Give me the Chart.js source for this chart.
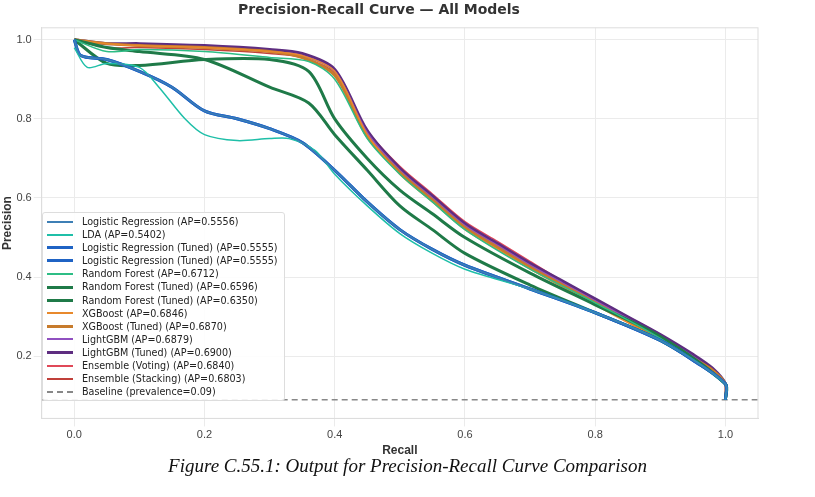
<!DOCTYPE html>
<html><head><meta charset="utf-8">
<script src="https://cdn.jsdelivr.net/npm/chart.js@4/dist/chart.umd.min.js"></script>
<style>
body{margin:0;background:#fff;font-family:"DejaVu Sans",sans-serif}
#wrap{position:relative;width:815px;height:460px}
#legend{position:absolute;left:42px;top:212px;background:rgba(255,255,255,0.9);border:1px solid #ddd;border-radius:3px;padding:2px 6px 2px 4px;font-size:9.6px;color:#222;line-height:13.1px}
#legend .it{display:flex;align-items:center}
#legend .sw{width:26px;margin-right:9px}
#cap{position:absolute;left:0;top:455px;width:815px;text-align:center;font:italic 19px "Liberation Serif",serif;color:#111}
</style></head><body>
<div id="wrap"><canvas id="c" width="815" height="458"></canvas>
<div id="legend"></div></div>
<div id="cap">Figure C.55.1: Output for Precision-Recall Curve Comparison</div>
<script>
const topX = [0,0.05,0.1,0.2,0.3,0.35,0.4,0.45,0.5,0.55,0.6,0.65,0.7,0.75,0.8,0.85,0.9,0.95,0.98,1.0,1.0];
const lrX = [0,0.01,0.05,0.1,0.15,0.2,0.25,0.3,0.35,0.4,0.45,0.5,0.55,0.6,0.7,0.8,0.9,0.95,1.0,1.0];
const ldaX = [0,0.02,0.05,0.1,0.13,0.17,0.2,0.25,0.3,0.33,0.37,0.4,0.45,0.5,0.55,0.6,0.7,0.8,0.9,1.0,1.0];
const rfX = [0,0.05,0.1,0.2,0.3,0.36,0.4,0.45,0.5,0.55,0.6,0.7,0.8,0.9,1.0,1.0];

const lrY = [1.0,0.96,0.95,0.92,0.88,0.82,0.8,0.775,0.74,0.67,0.59,0.52,0.47,0.43,0.37,0.31,0.24,0.19,0.13,0.09];
const ldaY = [0.98,0.93,0.94,0.93,0.88,0.8,0.76,0.745,0.75,0.75,0.72,0.66,0.58,0.51,0.46,0.42,0.37,0.31,0.24,0.13,0.09];
const rfY = [1.0,0.97,0.975,0.97,0.955,0.945,0.9,0.75,0.66,0.59,0.52,0.42,0.335,0.245,0.13,0.09];
const rfTunedY = [1.0,0.94,0.935,0.95,0.95,0.92,0.8,0.7,0.62,0.56,0.5,0.41,0.33,0.25,0.13,0.09];
const rfTuned2Y = [1.0,0.98,0.97,0.95,0.88,0.84,0.76,0.67,0.58,0.52,0.46,0.38,0.31,0.24,0.13,0.09];
const xgbY = [1.0,0.99,0.985,0.98,0.97,0.96,0.92,0.76,0.66,0.59,0.52,0.47,0.42,0.375,0.33,0.285,0.24,0.19,0.16,0.13,0.09];
const xgbTunedY = [1.0,0.99,0.985,0.98,0.97,0.955,0.91,0.755,0.665,0.595,0.525,0.475,0.425,0.38,0.335,0.29,0.245,0.195,0.165,0.13,0.09];
const lgbmY = [1.0,0.99,0.985,0.98,0.97,0.96,0.92,0.765,0.67,0.6,0.53,0.48,0.43,0.385,0.34,0.295,0.25,0.2,0.165,0.13,0.09];
const lgbmTunedY = [1.0,0.99,0.99,0.985,0.975,0.965,0.925,0.77,0.675,0.605,0.535,0.485,0.435,0.39,0.345,0.3,0.255,0.205,0.17,0.13,0.09];
const votingY = [1.0,0.99,0.985,0.98,0.97,0.96,0.92,0.77,0.68,0.61,0.54,0.49,0.44,0.39,0.345,0.3,0.255,0.2,0.165,0.13,0.09];
const stackingY = [1.0,0.98,0.98,0.975,0.965,0.955,0.915,0.765,0.67,0.6,0.53,0.48,0.43,0.385,0.34,0.295,0.25,0.2,0.165,0.13,0.09];

const names = ['Logistic Regression (AP=0.5556)','LDA (AP=0.5402)','Logistic Regression (Tuned) (AP=0.5555)','Logistic Regression (Tuned) (AP=0.5555)','Random Forest (AP=0.6712)','Random Forest (Tuned) (AP=0.6596)','Random Forest (Tuned) (AP=0.6350)','XGBoost (AP=0.6846)','XGBoost (Tuned) (AP=0.6870)','LightGBM (AP=0.6879)','LightGBM (Tuned) (AP=0.6900)','Ensemble (Voting) (AP=0.6840)','Ensemble (Stacking) (AP=0.6803)'];
const xs = [lrX,ldaX,lrX,lrX,rfX,rfX,rfX,topX,topX,topX,topX,topX,topX];
const ys = [lrY,ldaY,lrY,lrY,rfY,rfTunedY,rfTuned2Y,xgbY,xgbTunedY,lgbmY,lgbmTunedY,votingY,stackingY];
const colors = ['#3d7fb5','#1fbfa8','#1f63c4','#1f63c4','#2dbd85','#1f7a48','#1f7a48','#e8892c','#c77b2c','#9050c0','#5e2d80','#e04858','#c0403a'];
const widths = [1.5,1.5,3,3,1.5,3,3,1.5,3,1.5,3,1.5,1.5];
const baseline = 0.09;

const datasets = names.map((n,i)=>({label:n,data:xs[i].map((x,j)=>({x:x,y:ys[i][j]})),borderColor:colors[i],borderWidth:widths[i],pointRadius:0,tension:0.3,fill:false}));
datasets.push({label:'Baseline (prevalence=0.09)',data:[{x:-0.05,y:baseline},{x:1.05,y:baseline}],borderColor:'#888',borderWidth:1.5,borderDash:[6,4],pointRadius:0});

const lg = document.getElementById('legend');
datasets.forEach(d=>{
  const it=document.createElement('div');it.className='it';
  const sw=document.createElement('div');sw.className='sw';
  sw.style.borderTop=(d.borderWidth+0.5)+'px '+(d.borderDash?'dashed':'solid')+' '+d.borderColor;
  it.appendChild(sw);it.appendChild(document.createTextNode(d.label));lg.appendChild(it);
});

const boxPlugin={id:'box',afterDraw(c){const a=c.chartArea,x=c.ctx;x.save();x.strokeStyle='#ddd';x.lineWidth=1;x.strokeRect(a.left,a.top,a.right-a.left,a.bottom-a.top);x.restore();}};

new Chart(document.getElementById('c'),{
  type:'line',
  data:{datasets:datasets},
  plugins:[boxPlugin],
  options:{
    responsive:false,animation:false,
    layout:{padding:{left:0,right:57,top:0,bottom:0}},
    plugins:{legend:{display:false},
      title:{display:true,text:'Precision-Recall Curve — All Models',color:'#333',font:{size:14,weight:'bold',family:'DejaVu Sans'},padding:{top:2,bottom:9}}},
    scales:{
      x:{type:'linear',min:-0.05,max:1.05,
        afterBuildTicks:a=>{a.ticks=[0,0.2,0.4,0.6,0.8,1.0].map(v=>({value:v}));},
        ticks:{callback:v=>v.toFixed(1),color:'#444',font:{size:11},padding:2},
        grid:{color:'#ebebeb'},border:{color:'#ddd'},
        title:{display:true,text:'Recall',color:'#333',font:{size:12,weight:'bold'},padding:0}},
      y:{min:0.043,max:1.03,
        afterBuildTicks:a=>{a.ticks=[0.2,0.4,0.6,0.8,1.0].map(v=>({value:v}));},
        ticks:{callback:v=>v.toFixed(1),color:'#444',font:{size:11},padding:2},
        grid:{color:'#ebebeb'},border:{color:'#ddd'},
        title:{display:true,text:'Precision',color:'#333',font:{size:12,weight:'bold'},padding:0}}
    }
  }
});
</script></body></html>
